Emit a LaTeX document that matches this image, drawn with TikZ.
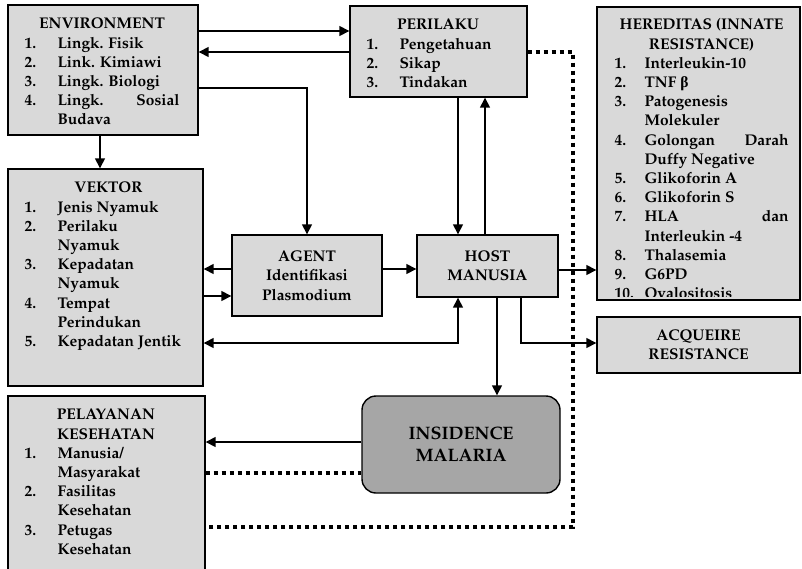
\documentclass[tikz,border=0pt]{standalone}
\usepackage{fontspec}
\newfontfamily\grkfont{Liberation Serif}
\usepackage[T1]{fontenc}
\usepackage{mathpazo}
\usepackage{array}
\usetikzlibrary{arrows.meta,calc}
\definecolor{boxgray}{RGB}{217,217,217}
\definecolor{darkbox}{RGB}{166,166,166}
\newcommand\bodyfont{\fontsize{15.5}{19.2}\selectfont\bfseries}
\newcommand\hd[1]{\multicolumn{2}{@{}c@{}}{#1}}
\newcolumntype{N}[1]{@{}>{\bfseries}p{#1}}
\newcolumntype{T}[1]{@{}>{\bfseries}p{#1}@{}}
\begin{document}
\begin{tikzpicture}[x=1pt,y=-1pt,
  box/.style={draw, fill=boxgray, line width=1.4pt, inner sep=0pt},
  txt/.style={inner sep=0pt, anchor=north west, font=\bodyfont},
  ctext/.style={align=center, font=\bodyfont},
  link/.style={line width=1.5pt, -{Triangle[length=10pt,width=10pt]}},
  both/.style={line width=1.5pt, {Triangle[length=10pt,width=10pt]}-{Triangle[length=10pt,width=10pt]}},
  dots/.style={line width=4pt, dash pattern=on 4.5pt off 3.5pt}]
\useasboundingbox (0,0) rectangle (802,568);
\fill[white] (0,0) rectangle (802,568);
\clip (0,0) rectangle (802,568);

% boxes
\node[box, minimum width=190pt, minimum height=130pt] (env) at (103,70) {};
\node[box, minimum width=177pt, minimum height=91pt] (per) at (438.5,51.5) {};
\node[box, minimum width=203pt, minimum height=293pt] (her) at (698.5,153.5) {};
\node[box, minimum width=195pt, minimum height=217pt] (vek) at (105.5,277.5) {};
\node[box, minimum width=197pt, minimum height=204pt] (pel) at (106.5,498) {};
\node[box, ctext, minimum width=150pt, minimum height=81pt] (agent) at (307,275.5)
  {AGENT\\Identifikasi\\Plasmodium};
\node[box, ctext, minimum width=141pt, minimum height=62pt] (host) at (487.5,266)
  {HOST\\MANUSIA};
\node[box, ctext, minimum width=203pt, minimum height=56pt] (acq) at (698.5,345)
  {ACQUEIRE\\RESISTANCE};
\node[box, fill=darkbox, rounded corners=14pt, minimum width=198pt, minimum height=97pt,
  align=center, font=\fontsize{18}{22}\selectfont\bfseries] (ins) at (461,444.5)
  {INSIDENCE\\MALARIA};

% box contents
\node[txt] (envtxt) at ($(env.north west)+(17,11)$) {%
\begin{tabular}{N{33pt}T{122pt}}
\hd{ENVIRONMENT}\\
1. & Lingk. Fisik\\
2. & Link. Kimiawi\\
3. & Lingk. Biologi\\
4. & Lingk.\hfill Sosial\\
   & Budava
\end{tabular}};

\node[txt] (pertxt) at ($(per.north west)+(17,11)$) {%
\begin{tabular}{N{33pt}T{110pt}}
\hd{PERILAKU}\\
1. & Pengetahuan\\
2. & Sikap\\
3. & Tindakan
\end{tabular}};

\begin{scope}
\clip (her.north west) rectangle ($(her.south east)+(0,-4)$);
\node[txt] (hertxt) at ($(her.north west)+(18,10)$) {%
\begin{tabular}{N{30pt}T{144pt}}
\hd{HEREDITAS (INNATE}\\
\hd{RESISTANCE)}\\
1. & Interleukin-10\\
2. & TNF {\grkfont\bfseries β}\\
3. & Patogenesis\\
   & Molekuler\\
4. & Golongan\hfill Darah\\
   & Duffy Negative\\
5. & Glikoforin A\\
6. & Glikoforin S\\
7. & HLA\hfill dan\\
   & Interleukin -4\\
8. & Thalasemia\\
9. & G6PD\\
10. & Ovalositosis
\end{tabular}};
\end{scope}

\node[txt] (vektxt) at ($(vek.north west)+(17,11)$) {%
\begin{tabular}{N{33pt}T{135pt}}
\hd{VEKTOR}\\
1. & Jenis Nyamuk\\
2. & Perilaku\\
   & Nyamuk\\
3. & Kepadatan\\
   & Nyamuk\\
4. & Tempat\\
   & Perindukan\\
5. & Kepadatan Jentik
\end{tabular}};

\node[txt] (peltxt) at ($(pel.north west)+(17,11)$) {%
\begin{tabular}{N{33pt}T{130pt}}
\hd{PELAYANAN}\\
\hd{KESEHATAN}\\
1. & Manusia/\\
   & Masyarakat\\
2. & Fasilitas\\
   & Kesehatan\\
3. & Petugas\\
   & Kesehatan
\end{tabular}};

% connectors
\draw[link] (env.east |- 0,31) -- (per.west |- 0,31);
\draw[link] (per.west |- 0,52) -- (env.east |- 0,52);
\draw[link] (env.east |- 0,88) -| (agent.north);
\draw[link] (env.south -| 100,0) -- (vek.north -| 100,0);
\draw[link] (per.south -| 458,0) -- (host.north -| 458,0);
\draw[link] (host.north -| 485,0) -- (per.south -| 485,0);
\draw[link] (agent.west |- 0,269) -- (vek.east |- 0,269);
\draw[link] (vek.east |- 0,296) -- (agent.west |- 0,296);
\draw[link] (agent.east |- 0,269) -- (host.west |- 0,269);
\draw[both] (vek.east |- 0,343) -| (host.south -| 458,0);
\draw[link] (host.east |- 0,270) -- (her.west |- 0,270);
\draw[link] (host.south -| 521,0) |- (acq.west |- 0,343);
\draw[link] (host.south -| 497,0) -- (ins.north -| 497,0);
\draw[link] (ins.west |- 0,442) -- (pel.east |- 0,442);

% dotted links
\coordinate (dotturn) at (573,527);
\draw[dots] (pel.east |- 0,473) -- (ins.west |- 0,473);
\draw[dots] (per.east |- 0,52) -| (dotturn) -- (pel.east |- dotturn);
\end{tikzpicture}
\end{document}
